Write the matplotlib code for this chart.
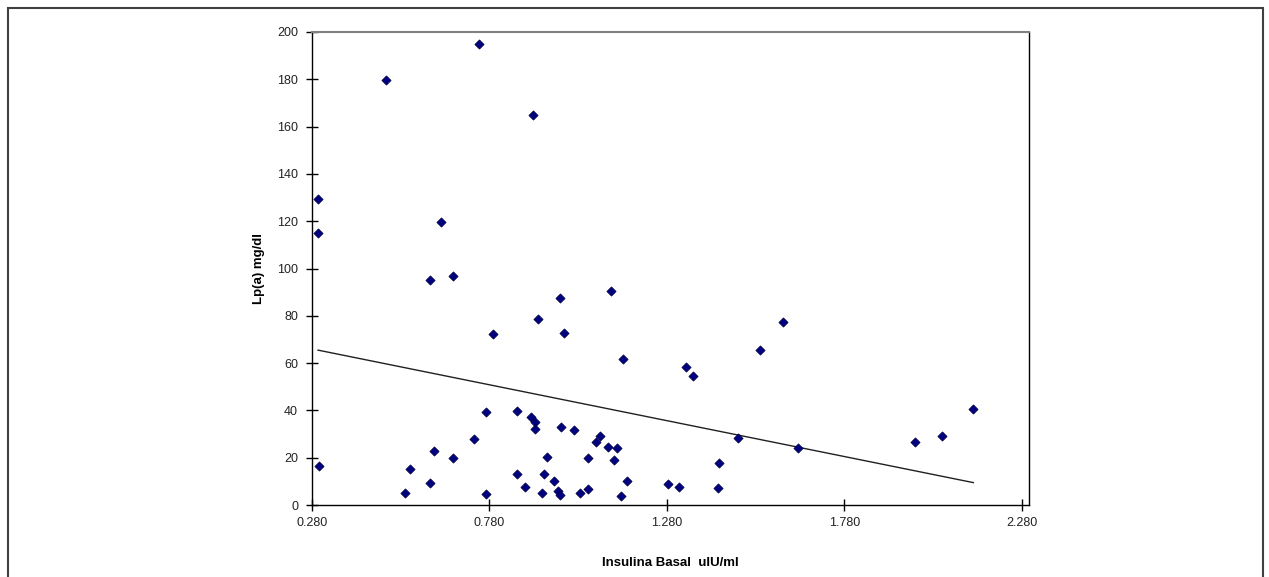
"""Scatter of Lp(a) against basal insulin with a linear trend line."""

import matplotlib.pyplot as plt
import numpy as np
from matplotlib.patches import Rectangle

insulina = [
    0.297, 0.297, 0.300, 0.489, 0.750, 0.904, 0.643, 0.612, 0.678, 0.790,
    0.917, 0.979, 0.990, 1.122, 1.156, 1.333, 1.353, 1.543, 1.606, 1.648,
    1.479, 1.979, 2.056, 2.143,
    0.541, 0.555, 0.612, 0.623, 0.678, 0.737, 0.770, 0.770, 0.857, 0.857,
    0.879, 0.896, 0.907, 0.907, 0.929, 0.934, 0.942, 0.963, 0.973, 0.978,
    0.981, 1.019, 1.034, 1.058, 1.058, 1.081, 1.090, 1.113, 1.139, 1.132,
    1.150, 1.167, 1.283, 1.315, 1.424, 1.426,
]
lpa = [
    129.5, 114.9, 16.6, 179.7, 195.1, 164.9, 119.5, 95.0, 97.0, 72.3,
    78.6, 87.5, 72.7, 90.5, 61.7, 58.4, 54.5, 65.7, 77.4, 24.0,
    28.2, 26.6, 29.3, 40.5,
    5.1, 15.1, 9.3, 23.0, 19.7, 27.8, 39.2, 4.5, 39.9, 13.0,
    7.6, 37.3, 35.1, 32.3, 5.1, 13.0, 20.4, 10.3, 5.8, 4.4,
    33.1, 31.8, 5.1, 19.7, 6.8, 26.6, 29.3, 24.7, 24.0, 19.2,
    3.9, 10.3, 8.7, 7.6, 7.0, 17.8,
]
x_ticks = [0.280, 0.780, 1.280, 1.780, 2.280]
y_ticks = [0, 20, 40, 60, 80, 100, 120, 140, 160, 180, 200]

plt.rcParams["font.family"] = ["Liberation Sans", "DejaVu Sans"]

fig = plt.figure(figsize=(12.69, 5.77), dpi=100)
ax = fig.add_axes([312 / 1269, 1 - 505 / 577, 717 / 1269, 473 / 577])

ax.scatter(insulina, lpa, marker="D", s=22, color="#000080",
           edgecolors="#000040", linewidths=0.5, zorder=3)

# linear trend line, fitted on the data
slope, intercept = np.polyfit(insulina, lpa, 1)
x_fit = np.array([min(insulina), max(insulina)])
ax.plot(x_fit, slope * x_fit + intercept, color="#202020", lw=1.0, zorder=2)

ax.set_xlim(0.280, 2.300)
ax.set_ylim(0, 200)
ax.set_xticks(x_ticks)
ax.set_xticklabels([f"{t:.3f}" for t in x_ticks])
ax.set_yticks(y_ticks)
ax.tick_params(direction="inout", length=8, width=1, labelsize=9,
               color="black", labelcolor="#222222")
ax.tick_params(axis="x", pad=5)
ax.tick_params(axis="y", pad=6)

for side in ("left", "bottom", "right"):
    ax.spines[side].set_color("black")
    ax.spines[side].set_linewidth(1)
ax.spines["top"].set_color("#808080")
ax.spines["top"].set_linewidth(1.5)

ax.set_xlabel("Insulina Basal  ulU/ml", fontsize=9.5, fontweight="bold",
              labelpad=20)
ax.set_ylabel("Lp(a) mg/dl", fontsize=9.5, fontweight="bold", labelpad=9)

# outer chart frame, open at the bottom
fig.patches.append(Rectangle((8 / 1269, -0.05), 1255 / 1269, 1.05 - 8 / 577,
                             transform=fig.transFigure, fill=False,
                             edgecolor="#404040", lw=1.5))

fig.savefig("out.png", dpi=100)
